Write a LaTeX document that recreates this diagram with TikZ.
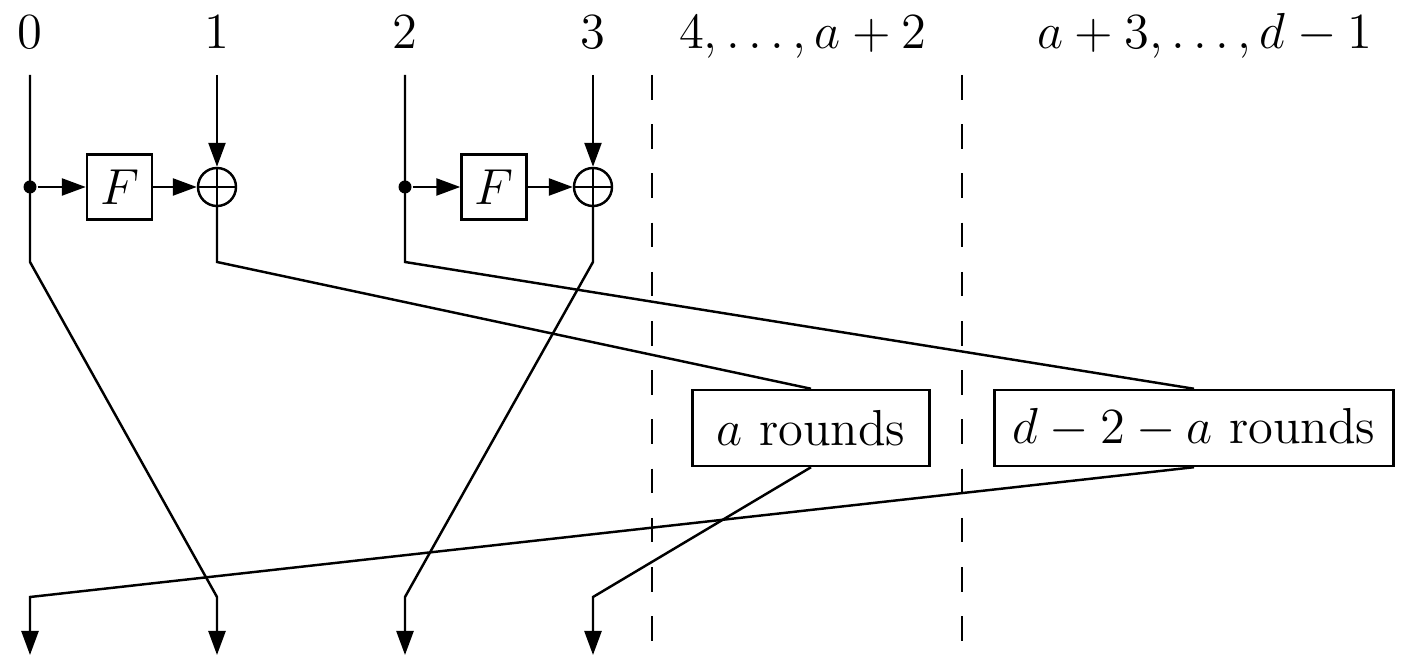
\documentclass[tikz,border=0pt]{standalone}
\usetikzlibrary{arrows.meta, positioning}

\begin{document}
\begin{tikzpicture}[
    >={Triangle[length=2.4mm, width=1.7mm]},
    font=\Large,
    line width=0.7pt,
    idx/.style={anchor=base, inner sep=0pt},
    fbox/.style={
        rectangle, draw,
        minimum size=0.65cm, inner sep=0pt
    },
    xorgate/.style={
        circle, draw,
        minimum size=0.38cm, inner sep=0pt,
        path picture={
            \draw (path picture bounding box.north) -- (path picture bounding box.south);
            \draw (path picture bounding box.west) -- (path picture bounding box.east);
        }
    },
    junction/.style={circle, fill, minimum size=0.13cm, inner sep=0pt},
    rounds/.style={
        rectangle, draw,
        minimum height=0.76cm, inner xsep=0.18cm
    },
    lane/.style={dash pattern=on 7pt off 7pt}
]
\useasboundingbox (0,0) rectangle (14.2,-6.59);

% branch labels
\node[idx] (l0) at (0.30,-0.49) {$0$};
\node[idx] (l1) at (2.17,-0.49) {$1$};
\node[idx] (l2) at (4.05,-0.49) {$2$};
\node[idx] (l3) at (5.93,-0.49) {$3$};
\node[idx] (l4) at (8.03,-0.49) {$4,\dots,a+2$};
\node[idx] (l5) at (12.05,-0.49) {$a+3,\dots,d-1$};

% first round of the two Feistel pairs
\node[junction] (j0) at (0.30,-1.87) {};
\node[fbox]     (f0) at (1.195,-1.87) {$F$};
\node[xorgate]  (x0) at (2.17,-1.87) {};
\node[junction] (j1) at (4.05,-1.87) {};
\node[fbox]     (f1) at (4.94,-1.87) {$F$};
\node[xorgate]  (x1) at (5.93,-1.87) {};

\node[rounds, minimum width=2.37cm] (ra) at (8.11,-4.28) {$a$ rounds};
\node[rounds] (rb) at (11.94,-4.28) {$d-2-a$ rounds};

% wire ends and bends
\coordinate (t0) at (0.30,-0.75);
\coordinate (t1) at (2.17,-0.75);
\coordinate (t2) at (4.05,-0.75);
\coordinate (t3) at (5.93,-0.75);
\coordinate (k0) at (0.30,-2.62);
\coordinate (k1) at (2.17,-2.62);
\coordinate (k2) at (4.05,-2.62);
\coordinate (k3) at (5.93,-2.62);
\coordinate (m0) at (0.30,-5.97);
\coordinate (m1) at (2.17,-5.97);
\coordinate (m2) at (4.05,-5.97);
\coordinate (m3) at (5.93,-5.97);
\coordinate (e0) at (0.30,-6.55);
\coordinate (e1) at (2.17,-6.55);
\coordinate (e2) at (4.05,-6.55);
\coordinate (e3) at (5.93,-6.55);

\draw[->] (t0) -- (j0.center) -- (k0) -- (m1) -- (e1);
\draw[->] (j0) -- (f0);
\draw[->] (f0) -- (x0);
\draw[->] (t1) -- (x0);
\draw (x0) -- (k1) -- (ra.north);

\draw (t2) -- (j1.center) -- (k2) -- (rb.north);
\draw[->] (j1) -- (f1);
\draw[->] (f1) -- (x1);
\draw[->] (t3) -- (x1);
\draw[->] (x1) -- (k3) -- (m2) -- (e2);

\draw[->] (ra.south) -- (m3) -- (e3);
\draw[->] (rb.south) -- (m0) -- (e0);

% lane separators
\coordinate (s1) at (6.52,-0.75);
\coordinate (s2) at (9.62,-0.75);
\draw[lane] (s1) -- (6.52,-6.59);
\draw[lane] (s2) -- (9.62,-6.59);

\end{tikzpicture}
\end{document}
